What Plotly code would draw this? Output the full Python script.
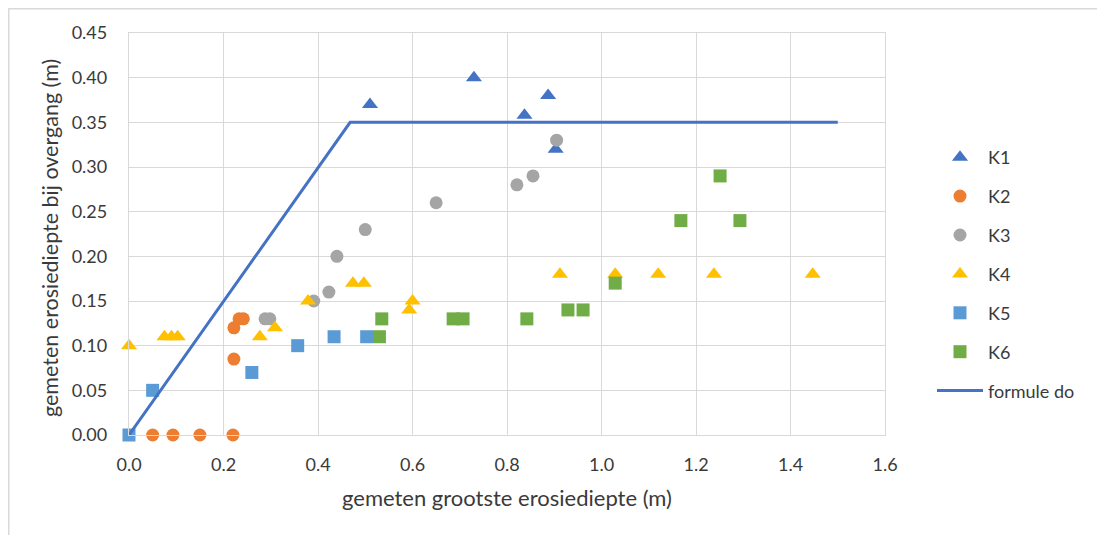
import plotly.graph_objects as go

# Data
k1_x = [0.51, 0.73, 0.837, 0.887, 0.903]
k1_y = [0.37, 0.40, 0.358, 0.38, 0.32]

k2_x = [0.05, 0.093, 0.15, 0.22, 0.222, 0.233, 0.242, 0.222]
k2_y = [0.00, 0.00, 0.00, 0.00, 0.12, 0.13, 0.13, 0.085]

k3_x = [0.288, 0.298, 0.391, 0.423, 0.44, 0.50, 0.65, 0.821, 0.855, 0.905]
k3_y = [0.13, 0.13, 0.15, 0.16, 0.20, 0.23, 0.26, 0.28, 0.29, 0.33]

k4_x = [0.0, 0.075, 0.09, 0.103, 0.277, 0.309, 0.379, 0.474, 0.497, 0.593, 0.60,
        0.912, 1.029, 1.12, 1.238, 1.447]
k4_y = [0.10, 0.11, 0.11, 0.11, 0.11, 0.12, 0.15, 0.17, 0.17, 0.14, 0.15,
        0.18, 0.18, 0.18, 0.18, 0.18]

k5_x = [0.0, 0.05, 0.26, 0.357, 0.434, 0.503]
k5_y = [0.00, 0.05, 0.07, 0.10, 0.11, 0.11]

k6_x = [0.53, 0.535, 0.686, 0.707, 0.842, 0.929, 0.961, 1.029, 1.168, 1.251, 1.293]
k6_y = [0.11, 0.13, 0.13, 0.13, 0.13, 0.14, 0.14, 0.17, 0.24, 0.29, 0.24]

formule_x = [0.0, 0.468, 1.5]
formule_y = [0.0, 0.35, 0.35]

x_ticks = [0.0, 0.2, 0.4, 0.6, 0.8, 1.0, 1.2, 1.4, 1.6]
y_ticks = [0.00, 0.05, 0.10, 0.15, 0.20, 0.25, 0.30, 0.35, 0.40, 0.45]

FONT = "Lato"
TXT = "#3A3A3A"

fig = go.Figure()

def scatter(x, y, name, symbol, color, size):
    fig.add_trace(go.Scatter(
        x=x, y=y, mode="markers", name=name, legendgroup=name, cliponaxis=False,
        marker=dict(symbol=symbol, color=color, size=size, line=dict(width=0)),
    ))

scatter(k1_x, k1_y, "K1", "triangle-up", "#4472C4", 14)
scatter(k2_x, k2_y, "K2", "circle", "#ED7D31", 13)
scatter(k3_x, k3_y, "K3", "circle", "#A5A5A5", 13)
scatter(k4_x, k4_y, "K4", "triangle-up", "#FFC000", 14)
scatter(k5_x, k5_y, "K5", "square", "#5B9BD5", 13)
scatter(k6_x, k6_y, "K6", "square", "#70AD47", 13)

fig.add_trace(go.Scatter(
    x=formule_x, y=formule_y, mode="lines", name="formule do", legendgroup="formule do",
    cliponaxis=False, line=dict(color="#4472C4", width=3),
))

# page body has an 8px margin; figure placed so the plot lands where the reference has it
W, H = 1097, 527
L, T = 121, 25
pw, ph = 756, 402
R, B = W - L - pw, H - T - ph
OFF = 8

def px(sx):  # screen x -> paper x
    return (sx - OFF - L) / pw

def py(sy):  # screen y -> paper y
    return (T + ph - (sy - OFF)) / ph

fig.update_layout(
    width=W, height=H, autosize=False,
    margin=dict(l=L, r=R, t=T, b=B),
    paper_bgcolor="white", plot_bgcolor="white",
    font=dict(family=FONT, size=18, color=TXT),
    xaxis=dict(
        range=[0, 1.6], tickvals=x_ticks, ticktext=[f"{v:.1f}" for v in x_ticks],
        showgrid=True, gridcolor="#D9D9D9", gridwidth=1.3,
        zeroline=False, showline=True, linecolor="#D9D9D9", linewidth=1.3, mirror=True,
        ticks="", ticklabelstandoff=13, tickfont=dict(size=18, color=TXT),
    ),
    yaxis=dict(
        range=[0, 0.45], tickvals=y_ticks, ticktext=[f"{v:.2f}" for v in y_ticks],
        showgrid=True, gridcolor="#D9D9D9", gridwidth=1.3,
        zeroline=False, showline=True, linecolor="#D9D9D9", linewidth=1.3, mirror=True,
        ticks="", ticklabelstandoff=17, tickfont=dict(size=18, color=TXT),
    ),
    legend=dict(
        x=px(932), y=py(139), xanchor="left", yanchor="top",
        font=dict(size=18, color=TXT), tracegroupgap=12.5, itemwidth=46,
        bgcolor="rgba(0,0,0,0)",
    ),
    showlegend=True,
    annotations=[
        dict(text="gemeten grootste erosiediepte (m)", xref="paper", yref="paper",
             x=px(507), y=py(497), xanchor="center", yanchor="middle",
             showarrow=False, font=dict(size=22, color=TXT)),
        dict(text="gemeten erosiediepte bij overgang (m)", xref="paper", yref="paper",
             x=px(50), y=py(238), xanchor="center", yanchor="middle", textangle=-90,
             showarrow=False, font=dict(size=21.5, color=TXT)),
    ],
    shapes=[
        dict(type="rect", xref="paper", yref="paper",
             x0=(0.75 - L) / pw, x1=px(1103), y0=py(560), y1=(T + ph - 0.75) / ph,
             line=dict(color="#D9D9D9", width=1.5), fillcolor="rgba(0,0,0,0)", layer="below"),
    ],
)

fig.write_html("out.html")
